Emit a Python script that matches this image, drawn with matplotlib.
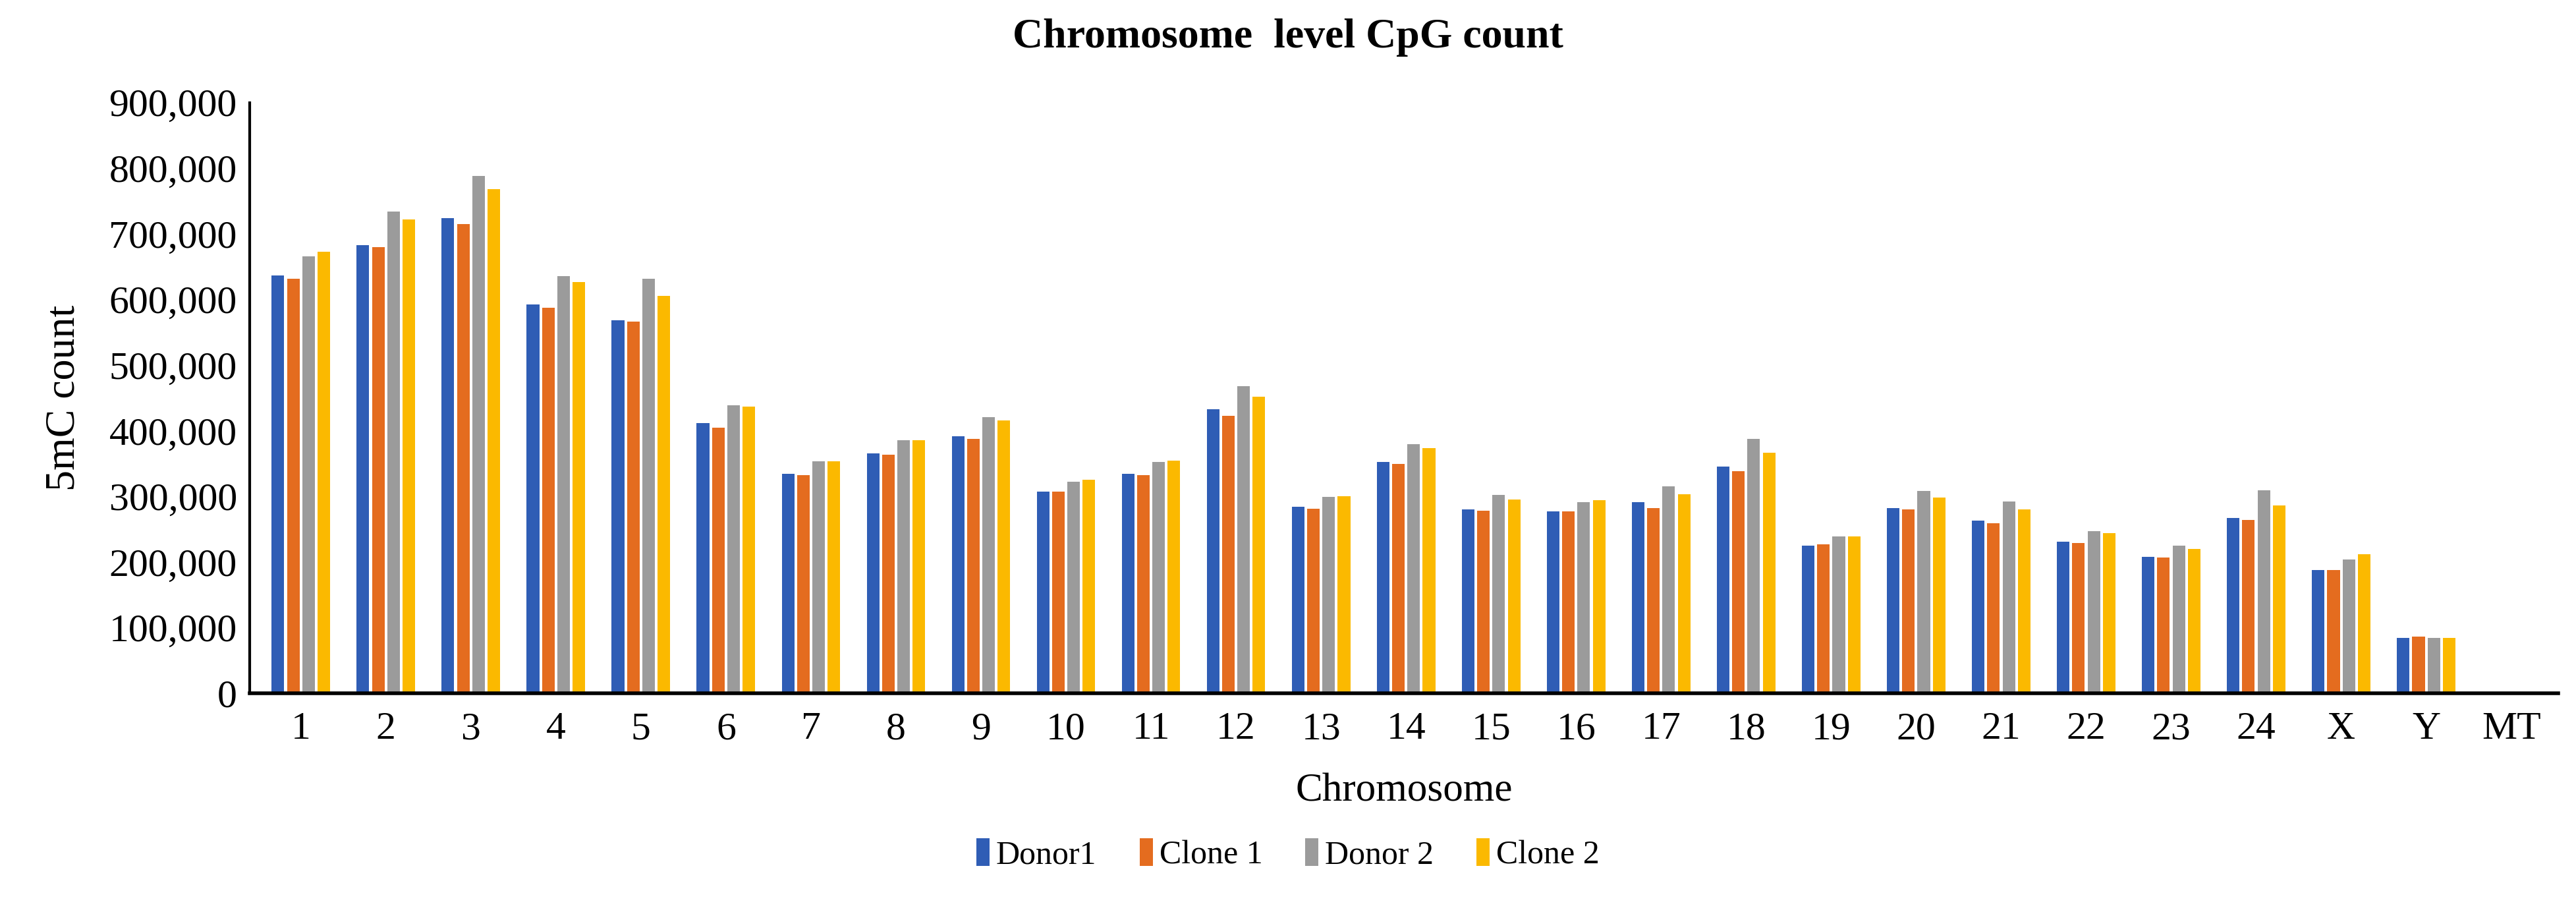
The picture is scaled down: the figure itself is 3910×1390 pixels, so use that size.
import numpy as np
import matplotlib.pyplot as plt
from matplotlib.ticker import FuncFormatter

chromosomes = [str(i) for i in range(1, 25)] + ["X", "Y", "MT"]
series = ["Donor1", "Clone 1", "Donor 2", "Clone 2"]

# values in thousands
donor1 = [637, 683, 724, 592, 568, 412, 335, 366, 392, 307, 335, 433, 284, 353,
          280, 277, 291, 346, 225, 282, 263, 231, 208, 267, 188, 85, 0]
clone1 = [632, 680, 715, 587, 566, 405, 333, 364, 388, 307, 333, 423, 281, 350,
          278, 277, 282, 339, 227, 280, 259, 229, 207, 264, 188, 87, 0]
donor2 = [666, 734, 788, 636, 632, 439, 354, 386, 421, 322, 353, 468, 299, 380,
          302, 291, 315, 388, 239, 308, 292, 247, 225, 309, 204, 85, 0]
clone2 = [673, 722, 768, 627, 606, 437, 354, 386, 416, 325, 355, 452, 300, 374,
          295, 294, 303, 367, 239, 298, 280, 244, 220, 286, 212, 85, 0]

colors = ["#2F5DB5", "#E46C1F", "#9B9B9B", "#FBB900"]

plt.rcParams['font.family'] = ['Liberation Serif', 'DejaVu Serif']

fig = plt.figure(figsize=(39.1, 13.9), dpi=100)
ax = fig.add_axes([0.097, 0.243, 0.896, 0.645])

x = np.arange(len(chromosomes))
step = 0.18
width = 0.148
for i, (name, vals) in enumerate(zip(series, [donor1, clone1, donor2, clone2])):
    ax.bar(x + (i - 1.5) * step, np.array(vals) * 1000, width=width,
           color=colors[i], label=name)

ax.set_ylim(0, 900000)
ax.set_xlim(-0.6, len(chromosomes) - 0.45)
ax.set_yticks(np.arange(0, 900001, 100000))
ax.yaxis.set_major_formatter(FuncFormatter(lambda v, p: f"{int(v):,}"))
ax.set_xticks(x)
ax.set_xticklabels(chromosomes)
ax.tick_params(axis='both', length=0, labelsize=43, pad=14)
ax.tick_params(axis='x', pad=20)

for s in ["top", "right"]:
    ax.spines[s].set_visible(False)
ax.spines["left"].set_linewidth(3)
ax.spines["bottom"].set_linewidth(4)

ax.set_xlabel("Chromosome", fontsize=44, labelpad=28)
ax.set_ylabel("5mC count", fontsize=46, labelpad=28)
fig.suptitle("Chromosome  level CpG count", fontsize=46, fontweight='bold',
             y=0.98)

fig.legend(loc='center', bbox_to_anchor=(0.5, 0.067), ncol=4, frameon=False,
           fontsize=36, handlelength=0.4, handleheight=0.9, handletextpad=0.2,
           columnspacing=1.3)

fig.savefig("out.png", dpi=100)
